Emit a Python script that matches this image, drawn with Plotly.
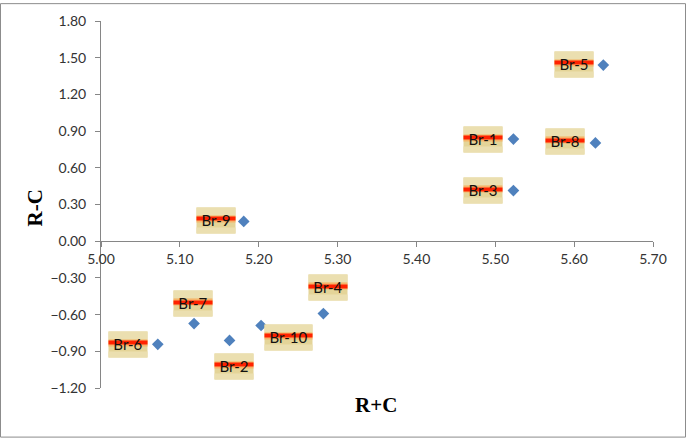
import plotly.graph_objects as go

# ---- data ----
names = ["Br-1", "Br-2", "Br-3", "Br-4", "Br-5", "Br-6", "Br-7", "Br-8", "Br-9", "Br-10"]
r_plus_c = [5.523, 5.163, 5.523, 5.282, 5.637, 5.072, 5.118, 5.627, 5.181, 5.203]
r_minus_c = [0.835, -0.811, 0.414, -0.592, 1.440, -0.843, -0.673, 0.803, 0.162, -0.689]

x_title = "R+C"
y_title = "R-C"

# ---- label placement (pixel offsets from the point; dx right, dy down) ----
label_offsets = {
    "Br-1": (-30, 0), "Br-2": (4, 26), "Br-3": (-30, 0), "Br-4": (5, -26),
    "Br-5": (-29, -1), "Br-6": (-30, 0), "Br-7": (-1, -20), "Br-8": (-30, -1),
    "Br-9": (-28, -1), "Br-10": (27, 12),
}

W, H = 686, 438
ML, MR, MT, MB = 101, 33, 18, 50
PW, PH = W - ML - MR, H - MT - MB

def px_x(c):
    return (c - ML) / PW

def px_y(r):
    return (H - MB - r) / PH

fig = go.Figure()
fig.add_trace(go.Scatter(
    x=r_plus_c, y=r_minus_c, mode="markers",
    marker=dict(symbol="diamond", size=9, color="#4f81bd"),
    hoverinfo="skip", showlegend=False,
))

anns = []
for n, xv, yv in zip(names, r_plus_c, r_minus_c):
    dx, dy = label_offsets[n]
    bw = 47 if len(n) > 4 else 38
    common = dict(x=xv, y=yv, xref="x", yref="y", showarrow=False,
                  xanchor="center", yanchor="middle", borderpad=0, width=bw)
    anns.append(dict(common, text=" ", height=25, bgcolor="#e4d498",
                     xshift=dx, yshift=-dy))
    anns.append(dict(common, text=" ", height=7, bgcolor="#ebdfb0",
                     xshift=dx, yshift=-dy + 9))
    anns.append(dict(common, text=" ", height=5, bgcolor="#ebdfb0",
                     xshift=dx, yshift=-dy - 10))
    anns.append(dict(common, text=" ", height=6, bgcolor="#f6b46a",
                     xshift=dx, yshift=-dy + 1.5))
    anns.append(dict(common, text=" ", height=3, bgcolor="#ff2200",
                     xshift=dx, yshift=-dy + 1.5))
    anns.append(dict(common, text=n, height=25, bgcolor="rgba(0,0,0,0)",
                     font=dict(family="Lato", size=15, color="#111111"),
                     xshift=dx, yshift=-dy + 1))

anns.append(dict(text="<b>" + x_title + "</b>", xref="paper", yref="paper",
                 x=px_x(376), y=px_y(405),
                 showarrow=False, xanchor="center", yanchor="middle",
                 font=dict(family="Liberation Serif", size=21, color="#000000")))
anns.append(dict(text="<b>" + y_title + "</b>", xref="paper", yref="paper",
                 x=px_x(35), y=px_y(207), textangle=-90,
                 showarrow=False, xanchor="center", yanchor="middle",
                 font=dict(family="Liberation Serif", size=21, color="#000000")))

shapes = [dict(type="rect", xref="paper", yref="paper",
               x0=px_x(0.5), x1=px_x(W - 0.5),
               y0=px_y(H - 0.5), y1=px_y(0.5),
               line=dict(color="#8c8c8c", width=1), fillcolor="rgba(0,0,0,0)")]

tickfont = dict(family="Lato", size=14, color="#333333")
fig.update_layout(
    width=W, height=H,
    margin=dict(l=ML, r=MR, t=MT, b=MB),
    paper_bgcolor="white", plot_bgcolor="white",
    xaxis=dict(range=[5.0, 5.7], dtick=0.1, tick0=5.0, tickformat=".2f",
               showgrid=False, zeroline=False, showline=True,
               linecolor="#868686", linewidth=1,
               ticks="outside", ticklen=5, tickcolor="#868686",
               anchor="free", position=1.2 / 3.0, tickfont=tickfont),
    yaxis=dict(range=[-1.2, 1.8], dtick=0.3, tick0=0, tickformat=".2f",
               showgrid=False, zeroline=False, showline=True,
               linecolor="#868686", linewidth=1,
               ticks="outside", ticklen=5, tickcolor="#868686",
               ticklabelstandoff=6, tickfont=tickfont),
    annotations=anns,
    shapes=shapes,
)

fig.write_html("out.html", config={"displayModeBar": False},
               post_script="document.body.style.margin='0';")
